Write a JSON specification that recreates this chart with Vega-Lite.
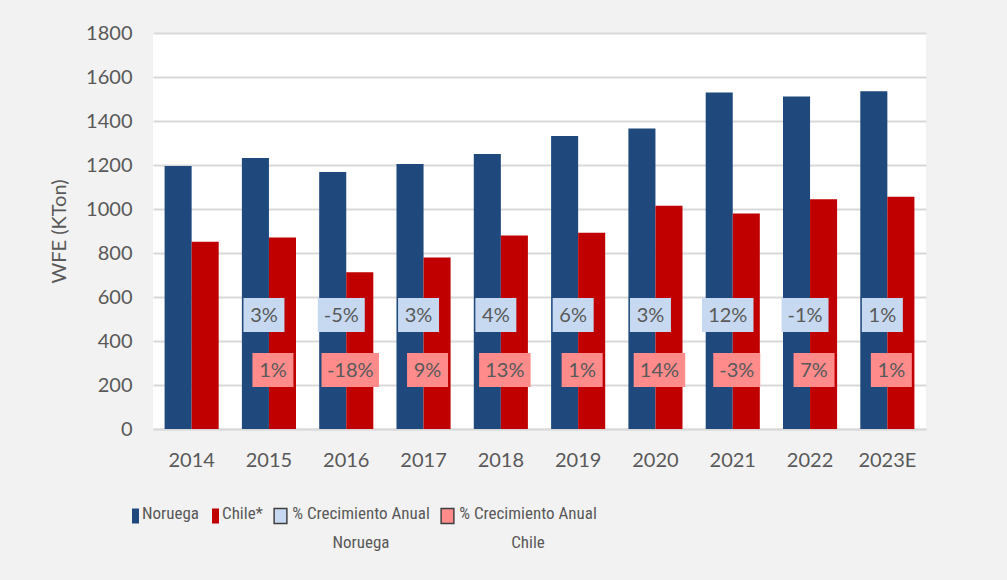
{
  "$schema": "https://vega.github.io/schema/vega-lite/v6.json",
  "width": 773,
  "height": 396,
  "autosize": {"type": "none"},
  "padding": {"left": 153, "top": 33, "right": 81, "bottom": 151},
  "background": "#f2f2f2",
  "config": {
    "view": {"fill": "white", "stroke": null},
    "font": "Lato",
    "axis": {"labelFont": "Lato", "titleFont": "Lato", "labelColor": "#595959", "titleColor": "#595959", "labelFontSize": 20, "titleFontSize": 20, "titleFontWeight": "normal"}
  },
  "datasets": {
    "prod": [
      {"year": "2014", "serie": "Noruega", "value": 1196},
      {"year": "2014", "serie": "Chile*", "value": 851},
      {"year": "2015", "serie": "Noruega", "value": 1232},
      {"year": "2015", "serie": "Chile*", "value": 870},
      {"year": "2016", "serie": "Noruega", "value": 1168},
      {"year": "2016", "serie": "Chile*", "value": 712},
      {"year": "2017", "serie": "Noruega", "value": 1205},
      {"year": "2017", "serie": "Chile*", "value": 780},
      {"year": "2018", "serie": "Noruega", "value": 1250},
      {"year": "2018", "serie": "Chile*", "value": 879},
      {"year": "2019", "serie": "Noruega", "value": 1332},
      {"year": "2019", "serie": "Chile*", "value": 892},
      {"year": "2020", "serie": "Noruega", "value": 1366},
      {"year": "2020", "serie": "Chile*", "value": 1015},
      {"year": "2021", "serie": "Noruega", "value": 1529},
      {"year": "2021", "serie": "Chile*", "value": 980},
      {"year": "2022", "serie": "Noruega", "value": 1511},
      {"year": "2022", "serie": "Chile*", "value": 1044},
      {"year": "2023E", "serie": "Noruega", "value": 1535},
      {"year": "2023E", "serie": "Chile*", "value": 1056}
    ],
    "growth": [
      {"year": "2015", "serie": "Noruega", "label": "3%"},
      {"year": "2015", "serie": "Chile", "label": "1%"},
      {"year": "2016", "serie": "Noruega", "label": "-5%"},
      {"year": "2016", "serie": "Chile", "label": "-18%"},
      {"year": "2017", "serie": "Noruega", "label": "3%"},
      {"year": "2017", "serie": "Chile", "label": "9%"},
      {"year": "2018", "serie": "Noruega", "label": "4%"},
      {"year": "2018", "serie": "Chile", "label": "13%"},
      {"year": "2019", "serie": "Noruega", "label": "6%"},
      {"year": "2019", "serie": "Chile", "label": "1%"},
      {"year": "2020", "serie": "Noruega", "label": "3%"},
      {"year": "2020", "serie": "Chile", "label": "14%"},
      {"year": "2021", "serie": "Noruega", "label": "12%"},
      {"year": "2021", "serie": "Chile", "label": "-3%"},
      {"year": "2022", "serie": "Noruega", "label": "-1%"},
      {"year": "2022", "serie": "Chile", "label": "7%"},
      {"year": "2023E", "serie": "Noruega", "label": "1%"},
      {"year": "2023E", "serie": "Chile", "label": "1%"}
    ]
  },
  "encoding": {
    "x": {
      "field": "year",
      "type": "ordinal",
      "scale": {"domain": ["2014", "2015", "2016", "2017", "2018", "2019", "2020", "2021", "2022", "2023E"], "paddingInner": 0.3, "paddingOuter": 0.15},
      "axis": {"title": null, "labelAngle": 0, "ticks": false, "domainColor": "#d9d9d9", "domainWidth": 2, "labelPadding": 21, "grid": false}
    }
  },
  "layer": [
    {
      "data": {"name": "prod"},
      "mark": {"type": "bar"},
      "encoding": {
        "xOffset": {"field": "serie", "type": "nominal", "sort": ["Noruega", "Chile*"], "scale": {"paddingInner": 0, "paddingOuter": 0}},
        "y": {
          "field": "value",
          "type": "quantitative",
          "scale": {"domain": [0, 1800], "nice": false},
          "axis": {"title": "WFE (KTon)", "format": "d", "values": [0, 200, 400, 600, 800, 1000, 1200, 1400, 1600, 1800], "ticks": false, "domain": false, "gridColor": "#d9d9d9", "gridWidth": 2, "labelPadding": 21, "titlePadding": 16}
        },
        "color": {
          "field": "serie",
          "type": "nominal",
          "scale": {
            "domain": ["Noruega", "Chile*", "% Crecimiento Anual Noruega", "% Crecimiento Anual Chile"],
            "range": ["#1f497d", "#c00000", "#c6d9f1", "#ff8b8b"]
          },
          "legend": {
            "title": null,
            "orient": "none",
            "legendX": -26,
            "legendY": 472,
            "direction": "horizontal",
            "columns": 4,
            "columnPadding": 8,
            "padding": 0,
            "symbolSize": 225,
            "labelOffset": 2,
            "labelFont": "Liberation Sans Narrow, Noto Sans Condensed, Roboto Condensed, DejaVu Sans Condensed, Lato",
            "labelFontSize": 17,
            "labelColor": "#595959",
            "labelLimit": 300,
            "labelExpr": "datum.label == '% Crecimiento Anual Noruega' ? ['% Crecimiento Anual', 'Noruega'] : datum.label == '% Crecimiento Anual Chile' ? ['% Crecimiento Anual', 'Chile'] : [datum.label, '']",
            "encode": {
              "labels": {
                "update": {
                  "lineHeight": {"value": 29},
                  "y": {"value": 1},
                  "baseline": {"value": "top"},
                  "align": {"signal": "indexof(datum.value, '% Crec') == 0 ? 'center' : 'left'"},
                  "dx": {"signal": "indexof(datum.value, '% Crec') == 0 ? 70 : -4"}
                }
              },
              "symbols": {
                "update": {
                  "y": {"value": 11},
                  "shape": {"signal": "(datum.value == 'Noruega' || datum.value == 'Chile*') ? 'M-0.47,-1H0.47V1H-0.47Z' : 'M-0.85,-1H0.85V1H-0.85Z'"},
                  "stroke": {"signal": "(datum.value == 'Noruega' || datum.value == 'Chile*') ? 'transparent' : '#404040'"},
                  "strokeWidth": {"value": 1.5},
                  "fillOpacity": {"value": 1}
                }
              }
            }
          }
        }
      }
    },
    {
      "data": {"name": "growth"},
      "transform": [
        {"filter": "datum.serie == 'Noruega'"},
        {"calculate": "20 + 10.5 * length(replace(datum.label, '-', '')) + (indexof(datum.label, '-') >= 0 ? 6 : 0)", "as": "w"}
      ],
      "mark": {"type": "bar", "xOffset": -5},
      "encoding": {
        "y": {"datum": 595},
        "y2": {"datum": 441},
        "size": {"field": "w", "type": "quantitative", "scale": null},
        "color": {"datum": "% Crecimiento Anual Noruega"}
      }
    },
    {
      "data": {"name": "growth"},
      "transform": [
        {"filter": "datum.serie == 'Chile'"},
        {"calculate": "20 + 10.5 * length(replace(datum.label, '-', '')) + (indexof(datum.label, '-') >= 0 ? 6 : 0)", "as": "w"}
      ],
      "mark": {"type": "bar", "xOffset": 4},
      "encoding": {
        "y": {"datum": 345},
        "y2": {"datum": 191},
        "size": {"field": "w", "type": "quantitative", "scale": null},
        "color": {"datum": "% Crecimiento Anual Chile"}
      }
    },
    {
      "data": {"name": "growth"},
      "transform": [{"filter": "datum.serie == 'Noruega'"}],
      "mark": {"type": "text", "xOffset": -5, "yOffset": 1, "font": "Lato", "fontSize": 20, "color": "#595959", "baseline": "middle", "align": "center"},
      "encoding": {
        "y": {"datum": 518},
        "text": {"field": "label"}
      }
    },
    {
      "data": {"name": "growth"},
      "transform": [{"filter": "datum.serie == 'Chile'"}],
      "mark": {"type": "text", "xOffset": 4, "yOffset": 1, "font": "Lato", "fontSize": 20, "color": "#595959", "baseline": "middle", "align": "center"},
      "encoding": {
        "y": {"datum": 268},
        "text": {"field": "label"}
      }
    }
  ]
}
